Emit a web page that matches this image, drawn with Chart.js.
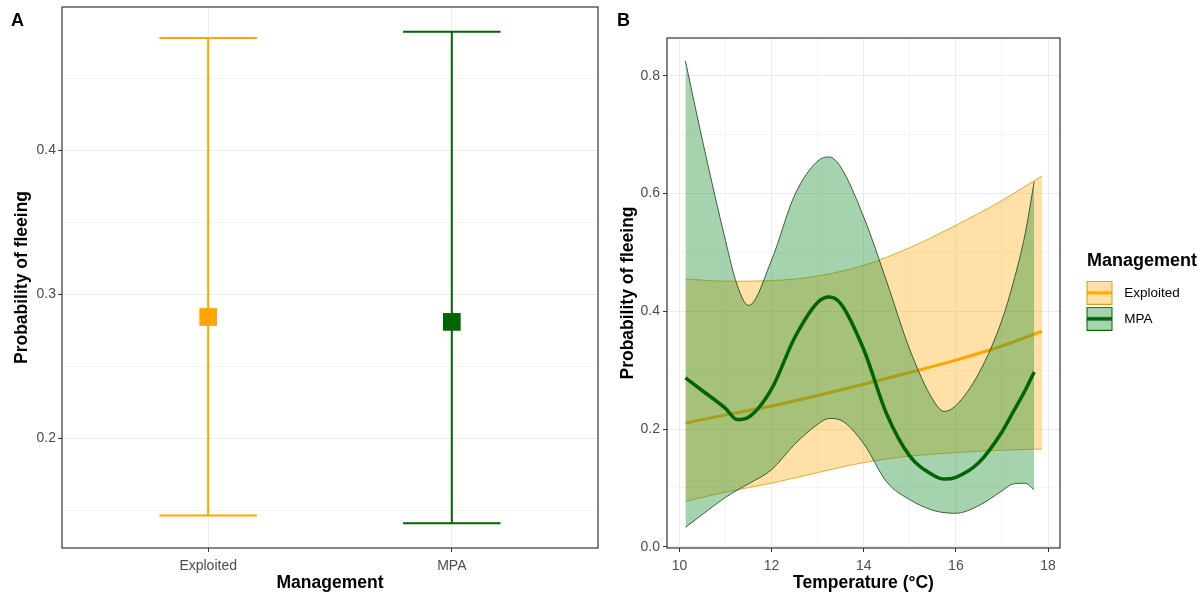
<!DOCTYPE html>
<html>
<head>
<meta charset="utf-8">
<script src="https://cdn.jsdelivr.net/npm/chart.js@4"></script>
<style>
  body { margin: 0; background: #fff; width: 1200px; height: 598px; position: relative; overflow: hidden; }
  #chartA { position: absolute; left: 0; top: 0; }
  #chartB { position: absolute; left: 605px; top: 0; }
  .tag { position: absolute; top: 11px; font: bold 18px/18px "Liberation Sans", Arial, sans-serif; color: #000; }
</style>
</head>
<body>
<canvas id="chartA" width="605" height="598"></canvas>
<canvas id="chartB" width="595" height="598"></canvas>
<div class="tag" style="left:11px">A</div>
<div class="tag" style="left:617px">B</div>
<script>
// A: predicted probability of fleeing by management type (mean + 95% CI)
const management = ['Exploited', 'MPA']
const fleeMean = [0.2844, 0.2810]
const fleeLower = [0.1467, 0.1412]
const fleeUpper = [0.4780, 0.4824]

const yMajorA = [0.2, 0.3, 0.4]
const yMinorA = [0.15, 0.25, 0.35, 0.45]

// B: smooth fit against temperature, with confidence band
const tempExp = [10.13, 11, 12, 13, 14, 15, 16, 17, 17.87]
const fitExp = [0.210, 0.224, 0.239, 0.257, 0.276, 0.296, 0.317, 0.341, 0.366]
const lowExp = [0.077, 0.093, 0.108, 0.126, 0.143, 0.154, 0.160, 0.164, 0.166]
const highExp = [0.455, 0.451, 0.452, 0.460, 0.478, 0.508, 0.546, 0.588, 0.630]

const tempMPA = [10.13, 10.5, 11, 11.25, 11.5, 12, 12.5, 13, 13.25, 13.5, 14, 14.5, 15, 15.5, 15.75, 16, 16.5, 17, 17.25, 17.5, 17.7]
const fitMPA = [0.287, 0.265, 0.235, 0.216, 0.220, 0.268, 0.355, 0.415, 0.424, 0.413, 0.335, 0.225, 0.154, 0.122, 0.115, 0.118, 0.143, 0.195, 0.230, 0.265, 0.297]
const highMPA = [0.825, 0.690, 0.520, 0.445, 0.410, 0.487, 0.597, 0.655, 0.662, 0.645, 0.560, 0.450, 0.335, 0.250, 0.230, 0.240, 0.295, 0.385, 0.450, 0.530, 0.620]
const lowMPA = [0.033, 0.055, 0.084, 0.096, 0.107, 0.131, 0.174, 0.208, 0.218, 0.215, 0.175, 0.110, 0.080, 0.062, 0.058, 0.057, 0.070, 0.095, 0.107, 0.108, 0.097]

const xMajorB = [10, 12, 14, 16, 18]
const xMinorB = [11, 13, 15, 17]
const yMajorB = [0, 0.2, 0.4, 0.6, 0.8]
const yMinorB = [0.1, 0.3, 0.5, 0.7]

const colors = ['#FFA500', '#006400']
const bands = ['rgba(255,165,0,0.35)', 'rgba(40,150,60,0.42)']
const bandEdges = ['rgba(215,145,0,0.9)', '#1c3a1c']

Chart.defaults.font.family = '"Liberation Sans", Arial, sans-serif'
Chart.defaults.animation = false
Chart.defaults.plugins.tooltip.enabled = false

const pts = (xs, ys) => xs.map((x, i) => ({x: x, y: ys[i]}))
const tickList = (...lists) => [].concat(...lists).sort((a, b) => a - b).map(v => ({value: v}))

// ggplot-like panel border, drawn over the data
const frame = {
  id: 'frame',
  afterDatasetsDraw(chart) {
    const {ctx, chartArea: a} = chart
    ctx.save()
    ctx.strokeStyle = '#333'
    ctx.lineWidth = 1.2
    ctx.strokeRect(a.left, a.top, a.right - a.left, a.bottom - a.top)
    ctx.restore()
  }
}

// fixed axis sizes, no extra room for label overhang
const fixX = s => { s.height = 50; s.paddingLeft = 0; s.paddingRight = 0 }
const fixY = s => { s.width = 62; s.paddingTop = 0; s.paddingBottom = 0 }

function axis(majors, extra) {
  const major = c => c.tick && majors.includes(c.tick.value)
  return Object.assign({
    border: {display: false},
    grid: {
      color: c => major(c) ? '#ebebeb' : '#f5f5f5',
      tickColor: c => major(c) ? '#333' : 'rgba(0,0,0,0)',
      tickLength: 4,
      lineWidth: 1
    }
  }, extra)
}

const tickFont = {size: 14}
const titleFont = {size: 17.5, weight: 'bold'}

// ---------- panel A ----------
const groupX = management.map((m, i) => i + 1)
const capHalf = 0.2

const errorBars = management.map((m, i) => {
  const x = groupX[i]
  return {
    type: 'line',
    data: [
      {x: x - capHalf, y: fleeUpper[i]}, {x: x + capHalf, y: fleeUpper[i]}, {x: x, y: null},
      {x: x, y: fleeUpper[i]}, {x: x, y: fleeLower[i]}, {x: x, y: null},
      {x: x - capHalf, y: fleeLower[i]}, {x: x + capHalf, y: fleeLower[i]}
    ],
    borderColor: colors[i],
    borderWidth: 2,
    pointRadius: 0,
    spanGaps: false
  }
})

new Chart(document.getElementById('chartA'), {
  type: 'line',
  data: {
    datasets: [{
      type: 'scatter',
      data: pts(groupX, fleeMean),
      pointStyle: 'rect',
      pointRadius: 12.5,
      pointBackgroundColor: colors,
      pointBorderWidth: 0
    }, ...errorBars]
  },
  plugins: [frame],
  options: {
    responsive: false,
    layout: {autoPadding: false, padding: {top: 7, right: 7, bottom: 0, left: 0}},
    plugins: {legend: {display: false}},
    scales: {
      x: axis(groupX, {
        type: 'linear', min: 0.4, max: 2.6,
        afterBuildTicks: s => { s.ticks = tickList(groupX) },
        afterFit: fixX,
        ticks: {callback: v => management[v - 1] || '', color: '#4d4d4d', font: tickFont, padding: 5.5, maxRotation: 0, autoSkip: false},
        title: {display: true, text: 'Management', color: '#000', font: titleFont, padding: {top: 0, bottom: 4}}
      }),
      y: axis(yMajorA, {
        type: 'linear', min: 0.1241, max: 0.4995,
        afterBuildTicks: s => { s.ticks = tickList(yMajorA, yMinorA) },
        afterFit: fixY,
        ticks: {callback: v => yMajorA.includes(v) ? v.toFixed(1) : '', color: '#4d4d4d', font: tickFont, padding: 2, autoSkip: false},
        title: {display: true, text: 'Probability of fleeing', color: '#000', font: titleFont, padding: {top: 12, bottom: 0}}
      })
    }
  }
})

// ---------- panel B ----------
function legendKey(i, lineWidth) {
  const c = document.createElement('canvas')
  c.width = 45
  c.height = 24
  const g = c.getContext('2d')
  g.fillStyle = '#fff'
  g.fillRect(14, 0, 26, 24)
  g.fillStyle = bands[i]
  g.fillRect(14.5, 0.5, 25, 23)
  g.strokeStyle = i ? colors[i] : bandEdges[i]
  g.lineWidth = 1
  g.strokeRect(14.5, 0.5, 25, 23)
  g.strokeStyle = colors[i]
  g.lineWidth = lineWidth
  g.beginPath()
  g.moveTo(15, 12)
  g.lineTo(39, 12)
  g.stroke()
  return c
}
const keys = [legendKey(0, 3), legendKey(1, 3.5)]

// fixed legend width so the panel keeps its place
const legendWidth = {
  id: 'legendWidth',
  afterInit(chart) {
    const legend = chart.legend
    const fit = legend.fit
    legend.fit = function () { fit.call(this); this.width = 137 }
  }
}

const band = (xs, ys, i, fill) => ({
  data: pts(xs, ys),
  borderColor: bandEdges[i],
  borderWidth: 0.8,
  backgroundColor: bands[i],
  fill: fill,
  pointRadius: 0,
  cubicInterpolationMode: 'monotone'
})
const fitLine = (xs, ys, i, w) => ({
  data: pts(xs, ys),
  borderColor: colors[i],
  borderWidth: w,
  fill: false,
  pointRadius: 0,
  cubicInterpolationMode: 'monotone'
})

new Chart(document.getElementById('chartB'), {
  type: 'line',
  data: {
    datasets: [
      Object.assign(band(tempExp, highExp, 0, '+1'), {order: 6}),
      Object.assign(band(tempExp, lowExp, 0, false), {order: 5}),
      Object.assign(fitLine(tempExp, fitExp, 0, 3), {order: 4}),
      Object.assign(band(tempMPA, highMPA, 1, '+1'), {order: 3}),
      Object.assign(band(tempMPA, lowMPA, 1, false), {order: 2}),
      Object.assign(fitLine(tempMPA, fitMPA, 1, 3.5), {order: 1})
    ]
  },
  plugins: [frame, legendWidth],
  options: {
    responsive: false,
    layout: {autoPadding: false, padding: {top: 38, right: 3, bottom: 0, left: 0}},
    plugins: {
      legend: {
        display: true,
        position: 'right',
        fullSize: false,
        align: 'center',
        title: {display: true, text: 'Management', position: 'end', color: '#000', font: {size: 18, weight: 'bold'}, padding: {top: 4, bottom: 0}},
        labels: {
          usePointStyle: true,
          pointStyleWidth: 45,
          padding: 12.5,
          color: '#1a1a1a',
          font: {size: 13.5},
          generateLabels: () => management.map((name, i) => ({
            text: name,
            pointStyle: keys[i],
            fillStyle: 'rgba(0,0,0,0)',
            strokeStyle: 'rgba(0,0,0,0)',
            lineWidth: 0,
            hidden: false
          }))
        }
      }
    },
    scales: {
      x: axis(xMajorB, {
        type: 'linear', min: 9.73, max: 18.26,
        afterBuildTicks: s => { s.ticks = tickList(xMajorB, xMinorB) },
        afterFit: fixX,
        ticks: {callback: v => xMajorB.includes(v) ? String(v) : '', color: '#4d4d4d', font: tickFont, padding: 5.5, maxRotation: 0, autoSkip: false},
        title: {display: true, text: 'Temperature (°C)', color: '#000', font: titleFont, padding: {top: 0, bottom: 4}}
      }),
      y: axis(yMajorB, {
        type: 'linear', min: -0.002, max: 0.864,
        afterBuildTicks: s => { s.ticks = tickList(yMajorB, yMinorB) },
        afterFit: fixY,
        ticks: {callback: v => yMajorB.includes(v) ? v.toFixed(1) : '', color: '#4d4d4d', font: tickFont, padding: 3, autoSkip: false},
        title: {display: true, text: 'Probability of fleeing', color: '#000', font: titleFont, padding: {top: 13, bottom: 0}}
      })
    }
  }
})
</script>
</body>
</html>
